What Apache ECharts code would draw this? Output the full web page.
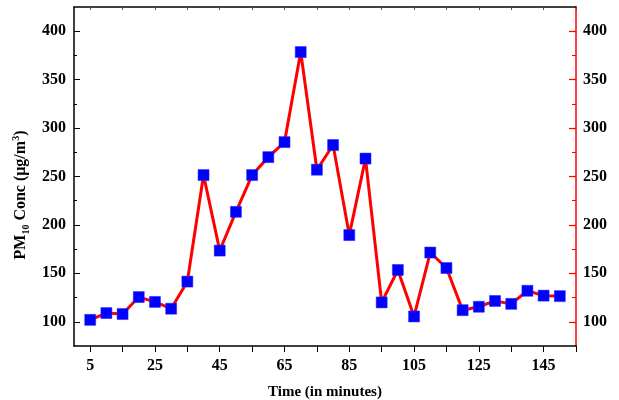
<!DOCTYPE html>
<html>
<head>
<meta charset="utf-8">
<script src="https://cdn.jsdelivr.net/npm/echarts@6/dist/echarts.min.js"></script>
<style>html,body{margin:0;padding:0;background:#fff}#c{width:619px;height:400px}</style>
</head>
<body>
<div id="c"></div>
<script>
const times = [5,10,15,20,25,30,35,40,45,50,55,60,65,70,75,80,85,90,95,100,105,110,115,120,125,130,135,140,145,150];
const pm10 = [102,109,108,125.5,120.5,113.5,141.5,251.5,173.5,213.5,251.5,270,285.5,378.5,257,282.5,189.5,268.5,120,153.5,105.5,171.5,155.5,112,115.5,121.5,118.5,132,127,126.5];
const xLabelValues = [5,25,45,65,85,105,125,145];
const xTickValues = [5,15,25,35,45,55,65,75,85,95,105,115,125,135,145,155];
const yLabelValues = [100,150,200,250,300,350,400];
const yMinorValues = [125,175,225,275,325,375];

const font = 'Liberation Serif, Times New Roman, serif';
const chart = echarts.init(document.getElementById('c'));
const labelStyle = {fontFamily: font, fontWeight: 'bold', fontSize: 16, color: '#000'};

chart.setOption({
  animation: false,
  grid: {left: 74, right: 43, top: 7, bottom: 54, outerBoundsMode: 'none', containLabel: false},
  xAxis: [
    {
      type: 'value', min: 0, max: 155, position: 'bottom',
      axisLine: {lineStyle: {color: '#000', width: 1.5}},
      axisTick: {show: true, inside: false, length: 6, customValues: xTickValues, lineStyle: {color: '#000', width: 1}},
      axisLabel: Object.assign({customValues: xLabelValues, margin: 12}, labelStyle),
      splitLine: {show: false},
      name: 'Time (in minutes)', nameLocation: 'middle', nameGap: 39,
      nameTextStyle: {fontFamily: font, fontWeight: 'bold', fontSize: 15, color: '#000'}
    },
    {
      type: 'value', min: 0, max: 155, position: 'top',
      axisLine: {lineStyle: {color: '#000', width: 1.5}},
      axisTick: {show: true, inside: true, length: 3, customValues: xTickValues, lineStyle: {color: '#555', width: 1}},
      axisLabel: {show: false, customValues: xLabelValues},
      splitLine: {show: false}
    }
  ],
  yAxis: [
    {
      type: 'value', min: 75, max: 425, position: 'left',
      axisLine: {show: true, lineStyle: {color: '#000', width: 1.5}},
      axisTick: {show: true, inside: true, length: 6, customValues: yLabelValues, lineStyle: {color: '#000', width: 1}},
      axisLabel: Object.assign({customValues: yLabelValues, margin: 8}, labelStyle),
      splitLine: {show: false},
      name: '{b|PM}{sub|10}{b| Conc (μg/m}{sup|3}{b|)}',
      nameLocation: 'middle', nameGap: 38,
      nameTextStyle: {
        color: '#000',
        padding: [0, 37, 0, 0],
        rich: {
          b: {fontFamily: font, fontWeight: 'bold', fontSize: 16, lineHeight: 20, color: '#000'},
          sub: {fontFamily: font, fontWeight: 'bold', fontSize: 10, lineHeight: 20, verticalAlign: 'bottom', color: '#000', padding: [6, 0, 0, 0]},
          sup: {fontFamily: font, fontWeight: 'bold', fontSize: 10, lineHeight: 20, verticalAlign: 'top', color: '#000', padding: [0, 0, 8, 0]}
        }
      }
    },
    {
      type: 'value', min: 75, max: 425, position: 'left',
      axisLine: {show: false},
      axisTick: {show: true, inside: true, length: 3, customValues: yMinorValues, lineStyle: {color: '#000', width: 1}},
      axisLabel: {show: false, customValues: yMinorValues},
      splitLine: {show: false}
    },
    {
      type: 'value', min: 75, max: 425, position: 'right',
      axisLine: {show: true, lineStyle: {color: '#ff0000', width: 1.5}},
      axisTick: {show: true, inside: true, length: 7, customValues: yLabelValues, lineStyle: {color: '#ff0000', width: 1.2}},
      axisLabel: Object.assign({customValues: yLabelValues, margin: 7}, labelStyle),
      splitLine: {show: false}
    },
    {
      type: 'value', min: 75, max: 425, position: 'right',
      axisLine: {show: false},
      axisTick: {show: true, inside: true, length: 4, customValues: yMinorValues, lineStyle: {color: '#ff0000', width: 1}},
      axisLabel: {show: false, customValues: yMinorValues},
      splitLine: {show: false}
    }
  ],
  series: [{
    type: 'line',
    xAxisIndex: 0, yAxisIndex: 0,
    data: times.map((t, i) => [t, pm10[i]]),
    lineStyle: {color: '#ff0000', width: 3},
    itemStyle: {color: '#0000ff', borderColor: '#2222ff', borderWidth: 0.5},
    symbol: 'rect', symbolSize: 11,
    z: 3
  }]
});
</script>
</body>
</html>
